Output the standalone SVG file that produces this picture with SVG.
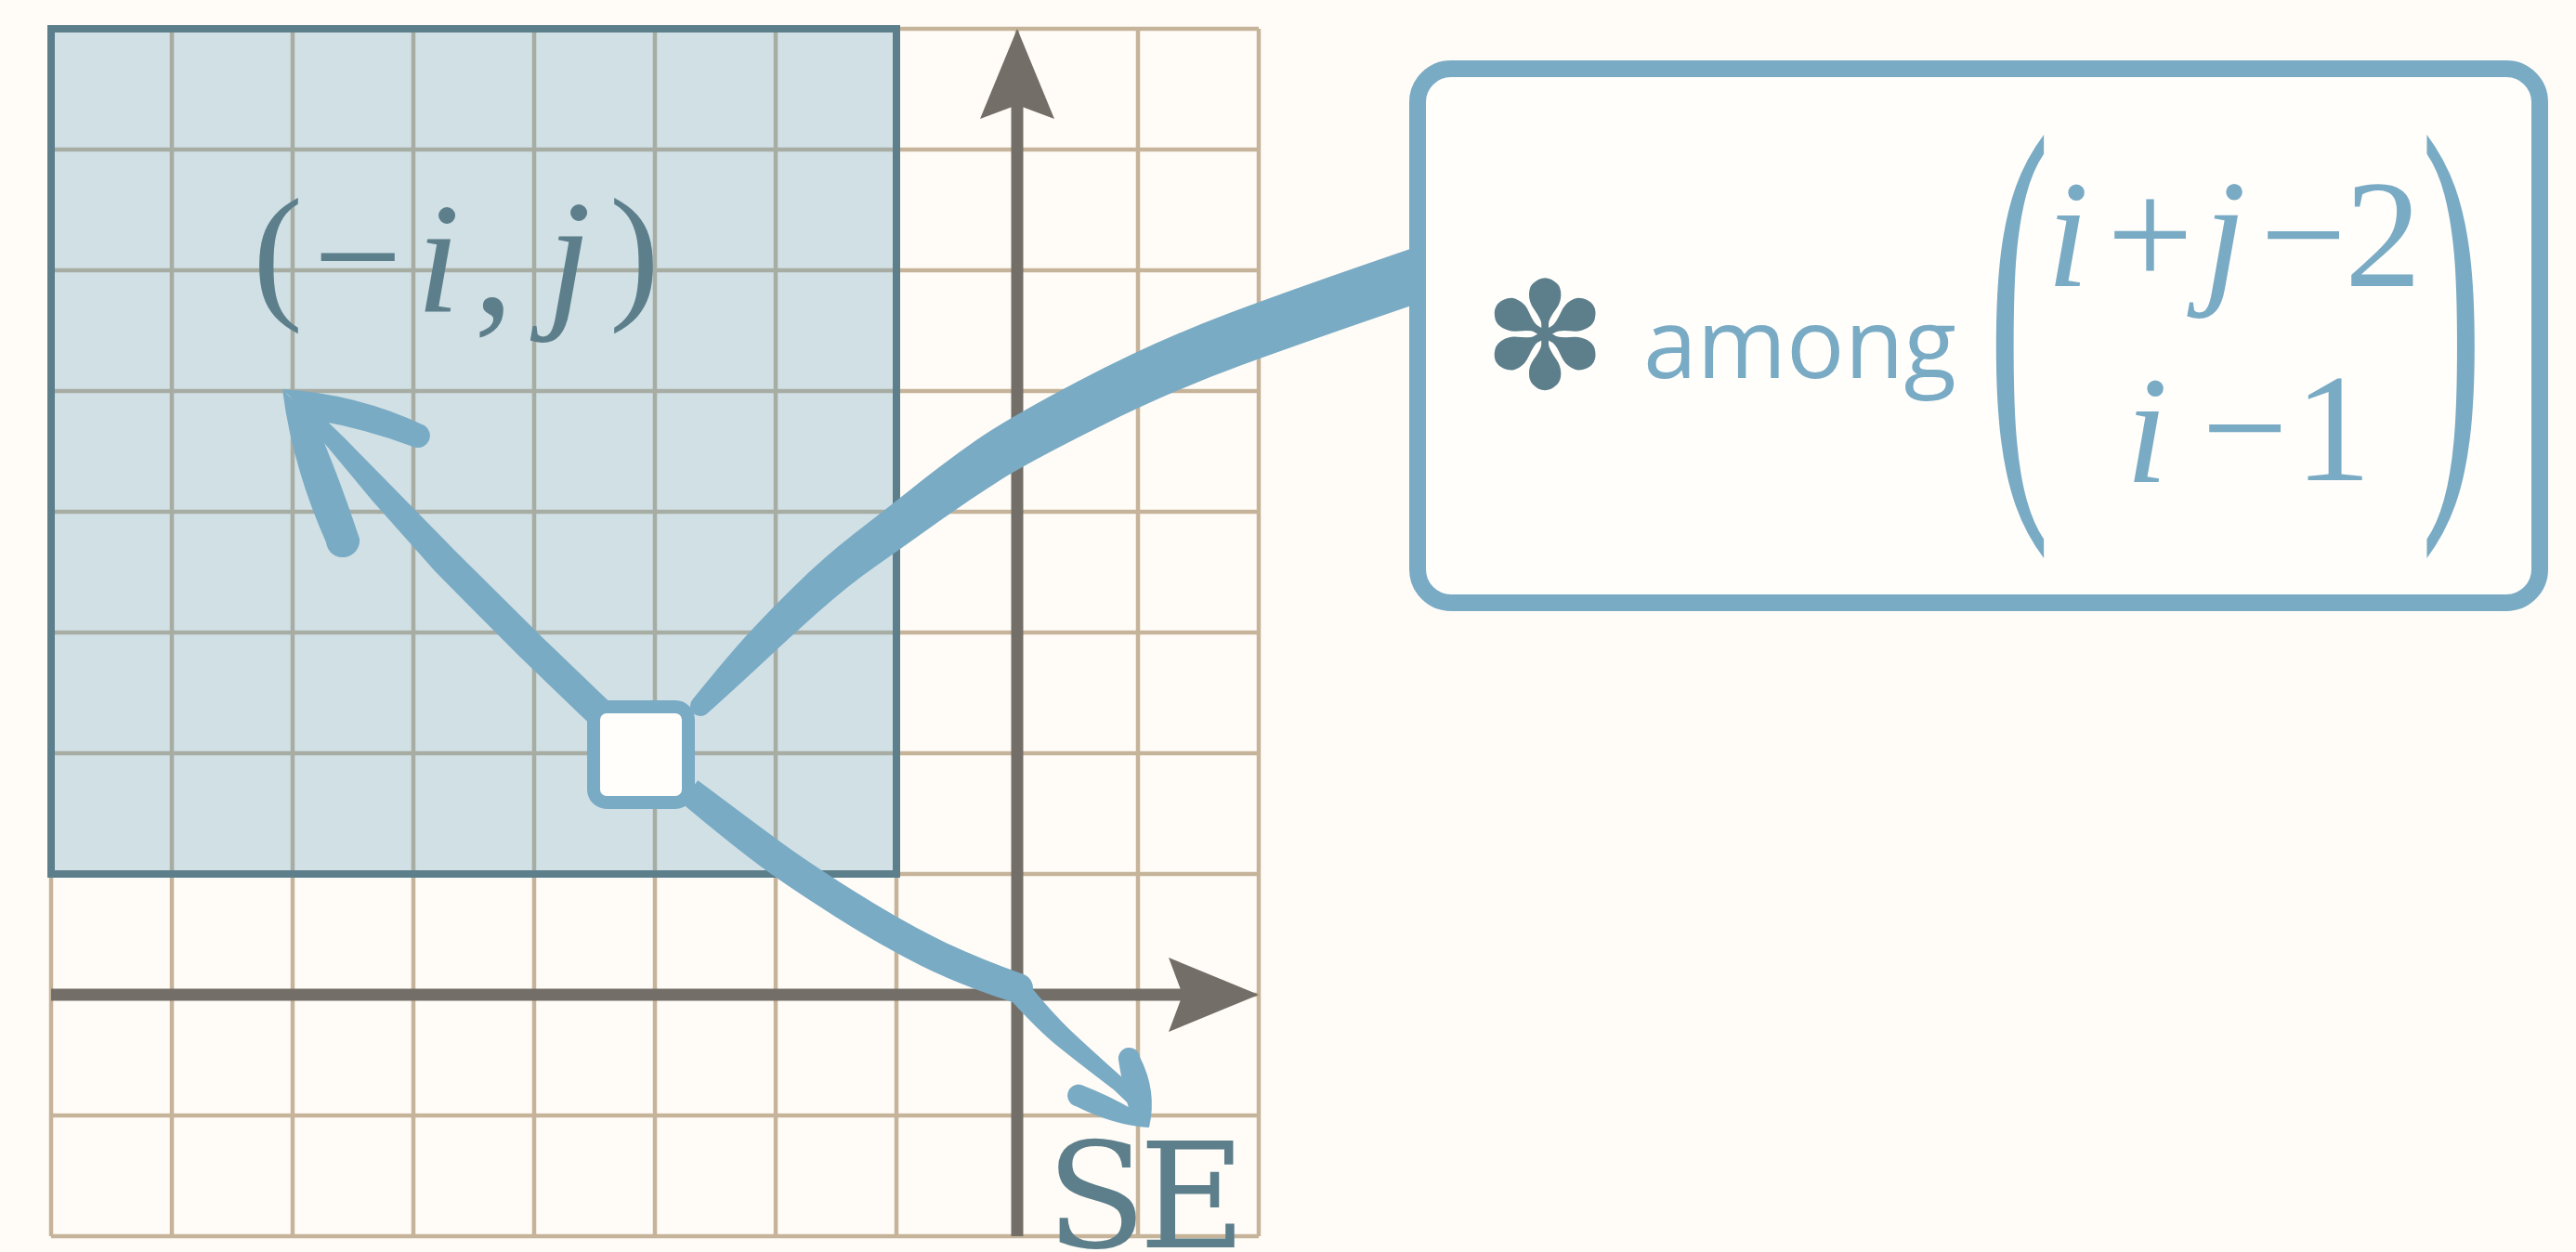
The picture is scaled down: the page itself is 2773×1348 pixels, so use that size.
<svg xmlns="http://www.w3.org/2000/svg" width="2773" height="1348" viewBox="0 0 2773 1348">
<style>
.grid{fill:none;stroke:#c6b49a;stroke-width:4.5}
.axis{fill:none;stroke:#736e67;stroke-width:13}
.conn{fill:#7aabc5;stroke:none}
.dark{fill:#5d7f8b}
.light{fill:#7aabc5}
.serif{font-family:"Liberation Serif","Times New Roman",serif}
.slab{font-family:"DejaVu Serif",serif}
.sans{font-family:"Open Sans","Noto Sans",sans-serif}
.sym{font-family:"DejaVu Sans",sans-serif}
.it{font-style:italic}
</style>
<defs>
<marker id="ah" viewBox="-100 -50 100 100" markerUnits="userSpaceOnUse" markerWidth="100" markerHeight="100" refX="-82" refY="0" orient="auto" overflow="visible">
<path d="M0,0 L-97,-40 L-82,0 L-97,40 Z" fill="#736e67"/>
</marker>
</defs>
<rect x="0" y="0" width="2773" height="1348" fill="#fffcf7"/>
<g id="grid">
<path class="grid" d="M55,31V1331M185,31V1331M315,31V1331M445,31V1331M575,31V1331M705,31V1331M835,31V1331M965,31V1331M1095,31V1331M1225,31V1331M1355,31V1331M55,31H1355M55,161H1355M55,291H1355M55,421H1355M55,551H1355M55,681H1355M55,811H1355M55,941H1355M55,1071H1355M55,1201H1355M55,1331H1355"/>
</g>
<g id="region">
<rect x="55" y="31" width="910" height="910" fill="#659fbe" fill-opacity="0.3" stroke="#5d7f8b" stroke-width="8"/>
</g>
<g id="axes">
<path class="axis" d="M1095,1331V113" marker-end="url(#ah)"/>
<path class="axis" d="M55,1071H1273" marker-end="url(#ah)"/>
</g>
<g id="connectors">
<path class="conn" d="M746 752.4 Q779.2 711.6 800.85 687.35 Q822.5 663.1 854.85 631.4 Q887.2 599.7 919 575.05 Q950.8 550.4 983.45 524.4 Q1016.1 498.4 1049.7 474.85 Q1083.3 451.3 1160.95 410.35 Q1238.6 369.4 1314.4 340.55 Q1390.2 311.7 1525.5 265.6 L1544.5 320.4 Q1409.8 366.3 1335.6 393.45 Q1261.4 420.6 1185.05 458.65 Q1108.7 496.7 1076.3 517.15 Q1043.9 537.6 1010.55 561.6 Q977.2 585.6 945 607.95 Q912.8 630.3 880.15 659.6 Q847.5 688.9 824.15 710.65 Q800.8 732.4 762 767.6 A11 11 0 0 1 746 752.4 Z"/>
<path class="conn" d="M659.5 758.9 L581.5 683.9 L491.1 594.2 L419.3 521 L370.2 471 L323 425.1 L313 434.9 L355.8 485 L400.7 539 L468.9 615.8 L558.5 706.1 L636.5 781.1 Z"/>
<path class="conn" d="M304 419 Q385 424 457.2 458.3 A13 13 0 0 1 446.8 481.7 Q395 462 338 452 Z"/>
<path class="conn" d="M304 419 Q314 500 351 584 A18 18 0 0 0 387 580 Q362 505 340 456 Z"/>
<path class="conn" d="M751.3 840.2 Q810.3 884.5 839.9 906.2 Q869.5 927.9 917.95 958.55 Q966.4 989.2 1006.55 1009.3 Q1046.7 1029.4 1101.1 1048.8 A16 16 0 0 1 1090.9 1079.2 Q1033.3 1060.6 991.45 1039.7 Q949.6 1018.8 900.05 987.45 Q850.5 956.1 820.1 933.8 Q789.7 911.5 732.7 863.8 Z"/>
<path class="conn" d="M1103.9 1055.5 Q1133.5 1091.5 1152.5 1109.45 Q1171.5 1127.4 1210.8 1162.5 L1232 1205 L1199.2 1173.5 Q1158.5 1142.6 1137.5 1125.55 Q1116.5 1108.5 1084.1 1072.5 Z"/>
<path class="conn" d="M1237 1214 Q1246 1175 1227 1138 A11.5 11.5 0 0 0 1204 1141 Q1210 1180 1218 1202 Z"/>
<path class="conn" d="M1237 1214 Q1200 1212 1158 1191 A11.5 11.5 0 0 1 1164 1168 Q1195 1180 1222 1196 Z"/>
</g>
<g id="node-point">
<rect x="639" y="761" width="102" height="103" rx="14" fill="#fffefb" stroke="#7aabc5" stroke-width="14"/>
</g>
<g id="node-label-coord">
<text class="serif dark"><tspan x="272" y="325" font-size="162">(</tspan><tspan x="337" y="333" font-size="170">−</tspan><tspan class="it" x="448" y="335" font-size="170">i</tspan><tspan x="510" y="337" font-size="170">,</tspan><tspan class="it" x="589" y="333" font-size="170">j</tspan><tspan x="656" y="325" font-size="162">)</tspan></text>
</g>
<g id="node-se">
<text class="slab dark" font-size="158"><tspan x="1126" y="1343">S</tspan><tspan x="1226" y="1343">E</tspan></text>
</g>
<g id="node-box">
<rect x="1526" y="74" width="1208" height="575" rx="36" fill="#fffefb" stroke="#7aabc5" stroke-width="18"/>
<text class="sym dark" x="1663" y="418" text-anchor="middle" font-size="160">✽</text>
<text class="sans light" x="1769" y="407" font-size="104">among</text>
<text class="serif light" transform="translate(2140,494) scale(1,2.515)" font-size="200">(</text>
<text class="serif light" transform="translate(2606,494) scale(1,2.515)" font-size="200">)</text>
<text class="serif light" font-size="165"><tspan class="it" x="2203" y="308">i</tspan><tspan x="2268" y="308">+</tspan><tspan class="it" x="2372" y="308">j</tspan><tspan x="2433" y="308">−</tspan><tspan x="2524" y="308">2</tspan></text>
<text class="serif light" font-size="165"><tspan class="it" x="2288" y="519">i</tspan><tspan x="2370" y="516">−</tspan><tspan x="2470" y="517">1</tspan></text>
</g>
</svg>
